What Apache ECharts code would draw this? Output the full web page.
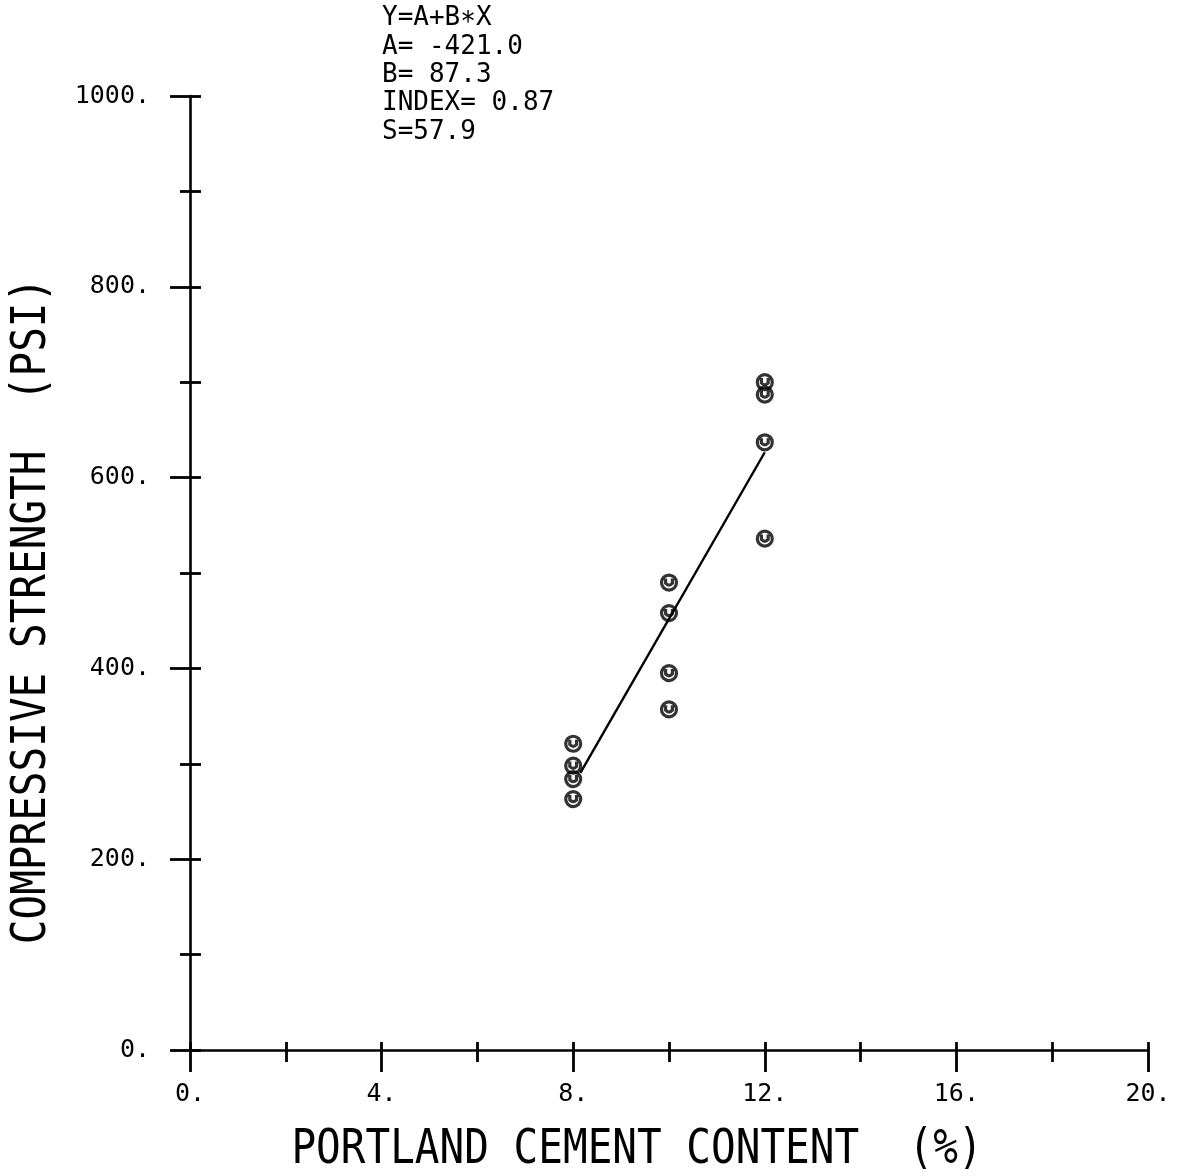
<!DOCTYPE html>
<html>
<head>
<meta charset="utf-8">
<script src="https://cdn.jsdelivr.net/npm/echarts@6/dist/echarts.min.js"></script>
<style>
html,body{margin:0;padding:0;background:#fff;}
#chart{width:1184px;height:1176px;}
</style>
</head>
<body>
<div id="chart"></div>
<script>
// Data
const cementPct = [8, 8, 8, 8, 10, 10, 10, 10, 12, 12, 12, 12];
const strength  = [321, 298, 284, 263, 490, 458, 395, 357, 700, 687, 637, 536];
const fitA = -421.0;
const fitB = 87.3;
const fitRange = [8.15, 12.0];
const annotationLines = ['Y=A+B\u2217X', 'A= -421.0', 'B= 87.3', 'INDEX= 0.87', 'S=57.9'];
const xTitle = 'PORTLAND CEMENT CONTENT  (%)';
const yTitle = 'COMPRESSIVE STRENGTH  (PSI)';
const xAxisRange = [0, 20];
const yAxisRange = [0, 1000];

const FONT = '"DejaVu Sans Mono", monospace';
const points = cementPct.map((x, i) => [x, strength[i]]);
const fitLine = fitRange.map(x => [x, fitA + fitB * x]);
const fmt = v => String(v) + '.';

const chart = echarts.init(document.getElementById('chart'), null, {renderer: 'canvas'});
const axisLine = {show: true, lineStyle: {color: '#000', width: 2.6}};
const tickStyle = {color: '#000', width: 2.8};
chart.setOption({
  backgroundColor: '#fff',
  animation: false,
  grid: {left: 190, right: 36, top: 96, bottom: 126, containLabel: false},
  xAxis: [
    {
      type: 'value', min: xAxisRange[0], max: xAxisRange[1], interval: 4, position: 'bottom',
      axisLine: axisLine,
      axisTick: {show: true, inside: false, length: 22, lineStyle: tickStyle},
      minorTick: {show: true, splitNumber: 2, length: 12, lineStyle: tickStyle},
      axisLabel: {show: true, margin: 32, formatter: fmt, color: '#000', fontFamily: FONT, fontSize: 25},
      splitLine: {show: false}, minorSplitLine: {show: false}
    },
    {
      type: 'value', min: xAxisRange[0], max: xAxisRange[1], interval: 2, position: 'bottom',
      axisLine: {show: false},
      axisTick: {show: true, inside: true, length: 8, lineStyle: tickStyle},
      axisLabel: {show: false}, splitLine: {show: false}
    }
  ],
  yAxis: [
    {
      type: 'value', min: yAxisRange[0], max: yAxisRange[1], interval: 200, position: 'left',
      axisLine: axisLine,
      axisTick: {show: true, inside: false, length: 20, lineStyle: tickStyle},
      minorTick: {show: true, splitNumber: 2, length: 10, lineStyle: tickStyle},
      axisLabel: {show: true, margin: 40, formatter: fmt, color: '#000', fontFamily: FONT, fontSize: 25},
      splitLine: {show: false}, minorSplitLine: {show: false}
    },
    {
      type: 'value', min: yAxisRange[0], max: yAxisRange[1], interval: 100, position: 'left',
      axisLine: {show: false},
      axisTick: {show: true, inside: true, length: 11, lineStyle: tickStyle},
      axisLabel: {show: false}, splitLine: {show: false}
    }
  ],
  series: [
    {
      type: 'line', xAxisIndex: 0, yAxisIndex: 0, data: fitLine,
      symbol: 'none', lineStyle: {color: '#000', width: 2.4}, silent: true
    },
    {
      type: 'scatter', xAxisIndex: 0, yAxisIndex: 0, data: points,
      symbol: 'path://M12,2 A10,10 0 1,1 11.99,2 Z M7.5,6.5 L7.5,13 Q12,18 16.5,13 L16.5,6.5',
      symbolSize: 15,
      itemStyle: {color: 'rgba(0,0,0,0)', borderColor: '#000', borderWidth: 3.2}
    }
  ],
  graphic: [
    {
      type: 'text', x: 382, y: 4, scaleY: 1.05,
      style: {text: annotationLines.join('\n'), font: '26px ' + FONT, fill: '#000', lineHeight: 27, verticalAlign: 'top'}
    },
    {
      type: 'text', x: 637, y: 1150, scaleY: 1.18,
      style: {text: xTitle, font: '41px ' + FONT, fill: '#000', align: 'center', verticalAlign: 'middle'}
    },
    {
      type: 'text', x: 32, y: 611, rotation: Math.PI / 2, scaleY: 1.18,
      style: {text: yTitle, font: '41px ' + FONT, fill: '#000', align: 'center', verticalAlign: 'middle'}
    }
  ]
});
</script>
</body>
</html>
